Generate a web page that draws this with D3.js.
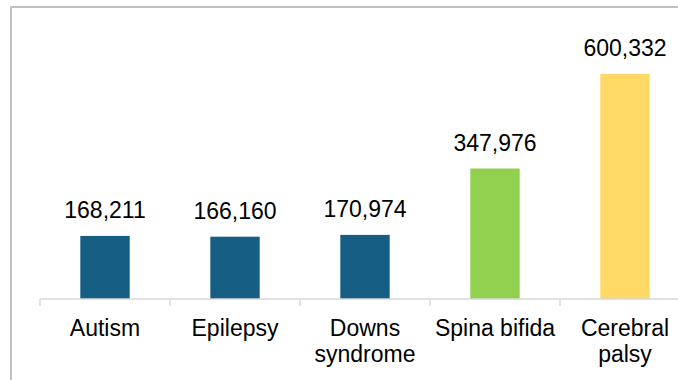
<!DOCTYPE html>
<html>
<head>
<meta charset="utf-8">
<script src="https://cdn.jsdelivr.net/npm/d3@7"></script>
<style>
  body { margin: 0; background: #fff; }
  text { font-family: "Liberation Sans", Arial, sans-serif; fill: #000; }
</style>
</head>
<body>
<svg id="chart" width="678" height="380"></svg>
<script>
// data
var categories = ["Autism", "Epilepsy", "Downs syndrome", "Spina bifida", "Cerebral palsy"];
var labelLines = [["Autism"], ["Epilepsy"], ["Downs", "syndrome"], ["Spina bifida"], ["Cerebral", "palsy"]];
var values = [168211, 166160, 170974, 347976, 600332];
var colors = ["#175e84", "#175e84", "#175e84", "#92d050", "#ffd966"];

var svg = d3.select("#chart");

// outer frame (runs off the right and bottom edge)
svg.append("rect")
  .attr("x", 11).attr("y", 7)
  .attr("width", 700).attr("height", 400)
  .attr("fill", "none")
  .attr("stroke", "#c0c0c0")
  .attr("stroke-width", 2);

var x = d3.scaleBand()
  .domain(categories)
  .range([40, 690])
  .paddingInner(0.62)
  .paddingOuter(0.31);

var y = d3.scaleLinear()
  .domain([0, 700000])
  .range([299, 36.5]);

var fmt = d3.format(",");

// bars
svg.selectAll("rect.bar").data(values).enter().append("rect")
  .attr("class", "bar")
  .attr("x", function(d, i) { return x(categories[i]); })
  .attr("y", function(d) { return y(d); })
  .attr("width", x.bandwidth())
  .attr("height", function(d) { return y(0) - y(d); })
  .attr("fill", function(d, i) { return colors[i]; });

// value labels
svg.selectAll("text.val").data(values).enter().append("text")
  .attr("class", "val")
  .attr("text-anchor", "middle")
  .attr("font-size", 23)
  .attr("x", function(d, i) { return x(categories[i]) + x.bandwidth() / 2; })
  .attr("y", function(d) { return y(d) - 18; })
  .text(function(d) { return fmt(d); });

// x axis line + ticks between categories
var step = x.step();
var axis = svg.append("g").attr("stroke", "#d9d9d9").attr("stroke-width", 1.5);
axis.append("line")
  .attr("x1", 40).attr("x2", 690)
  .attr("y1", y(0)).attr("y2", y(0));
d3.range(categories.length + 1).forEach(function(i) {
  axis.append("line")
    .attr("x1", 40 + i * step).attr("x2", 40 + i * step)
    .attr("y1", y(0)).attr("y2", y(0) + 7);
});

// category labels
var cat = svg.selectAll("text.cat").data(labelLines).enter().append("text")
  .attr("class", "cat")
  .attr("text-anchor", "middle")
  .attr("font-size", 23)
  .attr("x", function(d, i) { return x(categories[i]) + x.bandwidth() / 2; })
  .attr("y", 336);
cat.selectAll("tspan").data(function(d) { return d; }).enter().append("tspan")
  .attr("x", function() { return d3.select(this.parentNode).attr("x"); })
  .attr("dy", function(d, j) { return j === 0 ? 0 : 26; })
  .text(function(d) { return d; });
</script>
</body>
</html>
